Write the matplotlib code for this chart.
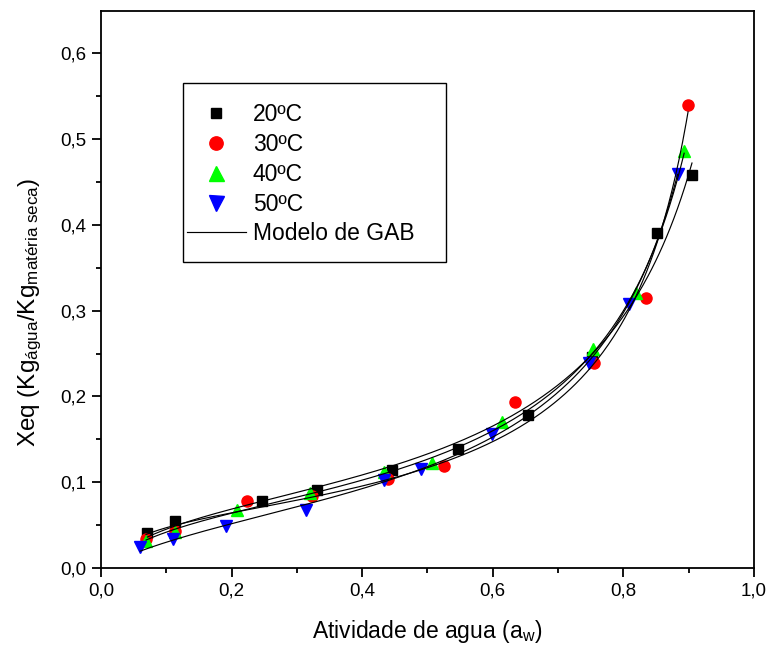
import numpy as np
import matplotlib
matplotlib.use("Agg")
import matplotlib.pyplot as plt
from matplotlib.patches import Rectangle
from matplotlib.ticker import MultipleLocator, FuncFormatter

plt.rcParams["font.family"] = ["Liberation Sans", "DejaVu Sans"]
plt.rcParams["mathtext.fontset"] = "custom"
plt.rcParams["mathtext.rm"] = "Liberation Sans"
plt.rcParams["mathtext.it"] = "Liberation Sans"

# ─── data (aw, Xeq) ──────────────────────────────────────────────────
aw_20 = [0.071, 0.114, 0.246, 0.331, 0.446, 0.547, 0.654, 0.752, 0.851, 0.905]
x_20  = [0.041, 0.055, 0.078, 0.091, 0.114, 0.139, 0.178, 0.246, 0.391, 0.458]

aw_30 = [0.069, 0.113, 0.224, 0.323, 0.440, 0.526, 0.634, 0.755, 0.834, 0.899]
x_30  = [0.034, 0.043, 0.078, 0.084, 0.104, 0.119, 0.193, 0.239, 0.315, 0.540]

aw_40 = [0.069, 0.113, 0.208, 0.320, 0.433, 0.507, 0.614, 0.754, 0.820, 0.893]
x_40  = [0.032, 0.042, 0.068, 0.087, 0.112, 0.122, 0.170, 0.255, 0.320, 0.486]

aw_50 = [0.060, 0.111, 0.191, 0.314, 0.433, 0.490, 0.599, 0.747, 0.808, 0.883]
x_50  = [0.024, 0.034, 0.049, 0.068, 0.103, 0.115, 0.156, 0.239, 0.308, 0.459]

labels  = ["20ºC", "30ºC", "40ºC", "50ºC"]
series  = [(aw_20, x_20), (aw_30, x_30), (aw_40, x_40), (aw_50, x_50)]
markers = ["s", "o", "^", "v"]
colors  = ["black", "red", "#00ff00", "blue"]
msizes  = [6.5, 8, 9, 9]


def gab(aw, xm, c, k):
    return xm * c * k * aw / ((1 - k * aw) * (1 - k * aw + c * k * aw))


def fit_gab(aw, x):
    # brute-force K, C grid; Xm by linear least squares
    aw, x = np.asarray(aw), np.asarray(x)
    best = None
    for k in np.linspace(0.6, 1.08, 241):
        for c in np.logspace(0, 2.7, 136):
            f = gab(aw, 1.0, c, k)
            xm = f @ x / (f @ f)
            sse = np.sum((xm * f - x) ** 2)
            if best is None or sse < best[0]:
                best = (sse, xm, c, k)
    return best[1:]


fig = plt.figure(figsize=(7.72, 6.58), dpi=100)
ax = fig.add_axes([0.1308, 0.1368, 0.8459, 0.8465])

for (aw, x), lab, m, col, ms in zip(series, labels, markers, colors, msizes):
    ax.plot(aw, x, ls="none", marker=m, color=col, ms=ms, label=lab, zorder=3)

for i, (aw, x) in enumerate(series):
    xm, c, k = fit_gab(aw, x)
    a = np.linspace(min(aw), max(aw), 300)
    ax.plot(a, gab(a, xm, c, k), color="black", lw=0.85, zorder=4,
            label="Modelo de GAB" if i == 0 else None)

ax.set_xlim(0, 1.0)
ax.set_ylim(0, 0.6493)
ax.xaxis.set_major_locator(MultipleLocator(0.2))
ax.xaxis.set_minor_locator(MultipleLocator(0.1))
ax.yaxis.set_major_locator(MultipleLocator(0.1))
ax.yaxis.set_minor_locator(MultipleLocator(0.05))
comma = FuncFormatter(lambda v, p: f"{v:.1f}".replace(".", ","))
ax.xaxis.set_major_formatter(comma)
ax.yaxis.set_major_formatter(comma)
ax.tick_params(which="both", direction="out", top=False, right=False,
               width=1.3, labelsize=13.5, pad=4)
ax.tick_params(which="major", length=6.5)
ax.tick_params(which="minor", length=3.3)
for s in ax.spines.values():
    s.set_linewidth(1.3)

ax.set_xlabel(r"Atividade de agua (a$_\mathrm{w}$)", fontsize=16.5, labelpad=13)
ax.set_ylabel(r"Xeq (Kg$_{\mathrm{água}}$/Kg$_{\mathrm{matéria\ seca}}$)",
              fontsize=17.5)
ax.yaxis.set_label_coords(-0.088, 0.459)

# legend without its own frame; frame drawn as a box matching the original
h, l = ax.get_legend_handles_labels()
leg = ax.legend(h, l, loc="upper left", bbox_to_anchor=(0.2418, 0.8435),
                bbox_transform=fig.transFigure, fontsize=16.5, frameon=False,
                borderpad=0, borderaxespad=0, handlelength=2.6,
                labelspacing=0.30, handletextpad=0.29, markerscale=1.2)
fig.add_artist(Rectangle((183 / 772, 1 - 262 / 658), 263 / 772, 179 / 658,
                         transform=fig.transFigure, fill=False,
                         edgecolor="black", linewidth=1.0))

fig.savefig("out.png", dpi=100)
